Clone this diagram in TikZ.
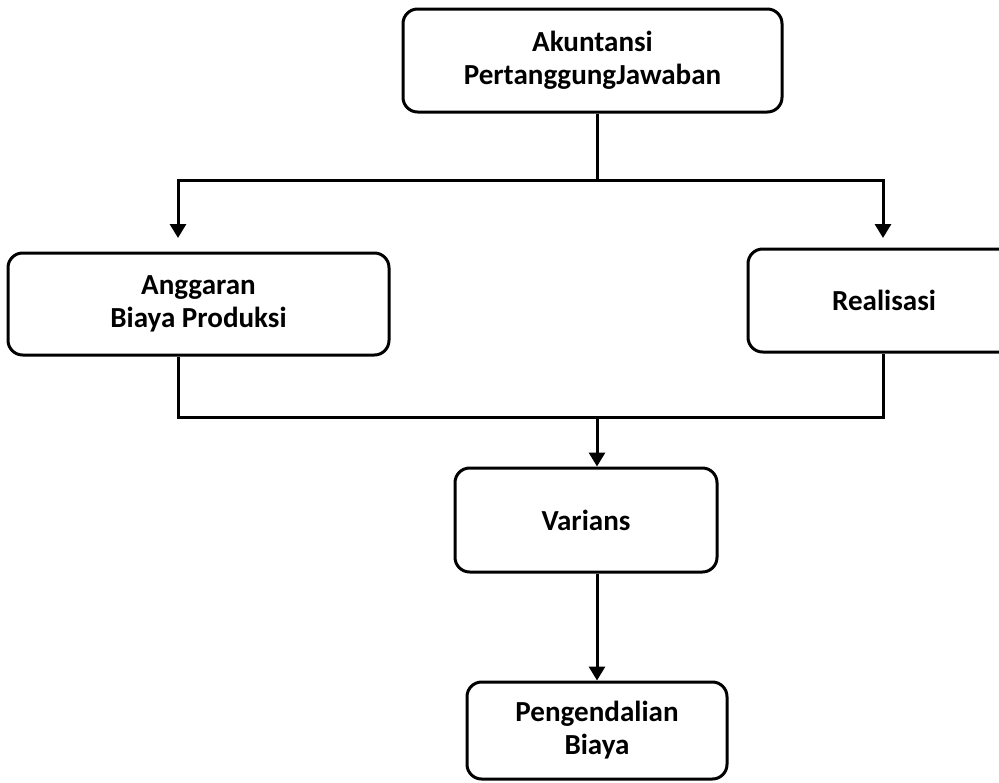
\documentclass[tikz,border=0pt]{standalone}
\usepackage{fontspec}
\setmainfont{Carlito}
\usetikzlibrary{arrows.meta}
\begin{document}
\begin{tikzpicture}[x=0.75pt,y=-0.75pt,
  box/.style={draw,line width=2.25pt,rounded corners=11pt,align=center,inner sep=0pt,
    font=\bfseries\fontsize{21.8}{24.75}\selectfont},
  link/.style={line width=2.25pt},
  arrow/.style={line width=2.25pt,-{Triangle[width=12pt,length=10.5pt]}}]
\useasboundingbox (0,0) rectangle (999,782);
\node[box,minimum width=284.25pt,minimum height=77.25pt] (top) at (592.5,60.5) {Akuntansi\\PertanggungJawaban};
\node[box,minimum width=285.75pt,minimum height=76.5pt] (left) at (198.5,304) {Anggaran\\Biaya Produksi};
\node[box,minimum width=204pt,minimum height=77.25pt] (right) at (884,300.5) {Realisasi};
\node[box,minimum width=196.5pt,minimum height=78pt] (var) at (586,520) {Varians};
\node[box,minimum width=195pt,minimum height=72.75pt] (peng) at (597,730.5) {Pengendalian\\Biaya};
\coordinate (jTop) at (597,180);
\coordinate (aL) at (178,180);
\coordinate (aR) at (883,180);
\coordinate (tL) at (178,238);
\coordinate (tR) at (883,238);
\coordinate (bL) at (178,417);
\coordinate (bR) at (883,417);
\coordinate (jBot) at (597,417);
\draw[link] (top.south -| jTop) -- (jTop);
\draw[arrow] (jTop) -- (aL) -- (tL);
\draw[arrow] (jTop) -- (aR) -- (tR);
\draw[link] (left.south -| bL) -- (bL) -- (bR) -- (right.south -| bR);
\draw[arrow] (jBot) -- (var.north -| jBot);
\draw[arrow] (var.south -| jBot) -- (peng.north -| jBot);
\end{tikzpicture}
\end{document}
